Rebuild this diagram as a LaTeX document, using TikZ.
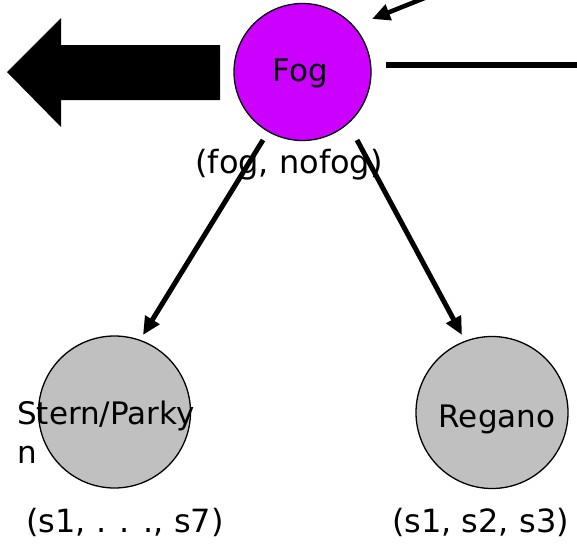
\documentclass[tikz,border=0pt]{standalone}
\usepackage{fontspec}
\setmainfont{DejaVu Sans}
\usetikzlibrary{arrows.meta}
\definecolor{fogpurple}{HTML}{CC00FF}
\definecolor{nodegray}{HTML}{C0C0C0}
\begin{document}
\begin{tikzpicture}[x=1pt,y=-1pt,
  nodecirc/.style={circle, draw=black, line width=1.3pt, inner sep=0pt, minimum size=#1},
  conn/.style={line width=5pt, -{Triangle[length=18pt,width=16pt]}},
  plainline/.style={line width=5.5pt},
  nametext/.style={font=\fontsize{31}{39}\selectfont, inner sep=0pt},
  statetext/.style={font=\fontsize{32}{38}\selectfont, inner sep=0pt, anchor=base}]
\useasboundingbox (0,0) rectangle (577,546);
\clip (0,0) rectangle (577,546);
% nodes
\node[nodecirc=137pt, fill=fogpurple] (fog) at (302.5,72) {};
\node[nodecirc=152pt, fill=nodegray] (stern) at (114.5,412) {};
\node[nodecirc=152pt, fill=nodegray] (regano) at (492,412.5) {};
% node names
\node[nametext, anchor=base] (fogname) at (300.5,81) {Fog};
\node[nametext, anchor=base] (reganoname) at (497,427) {Regano};
\node[nametext, anchor=base west, align=left] (sternname) at (17,463) {Stern/Parky\\n};
% state labels
\node[statetext] (foglabel) at (289,173) {(fog, nofog)};
\node[statetext] (sternlabel) at (125,532) {(s1, . . ., s7)};
\node[statetext] (reganolabel) at (480.5,532) {(s1, s2, s3)};
% big arrow
\fill[black] (7,72) -- (61,18) -- (61,45) -- (220,45) -- (220,100) -- (61,100) -- (61,127) -- cycle;
% connector end points
\coordinate (fogsw) at (263,140);
\coordinate (fogse) at (357,140);
\coordinate (sterntip) at (143,335);
\coordinate (reganotip) at (462,335);
\coordinate (incoming) at (446,-10.5);
\coordinate (fogne) at (372,19);
\coordinate (linestart) at (386,65);
\coordinate (lineend) at (590,65);
% connectors
\draw[conn] (fogsw) -- (sterntip);
\draw[conn] (fogse) -- (reganotip);
\draw[conn, line width=4.5pt] (incoming) -- (fogne);
\draw[plainline] (linestart) -- (lineend);
\end{tikzpicture}
\end{document}
